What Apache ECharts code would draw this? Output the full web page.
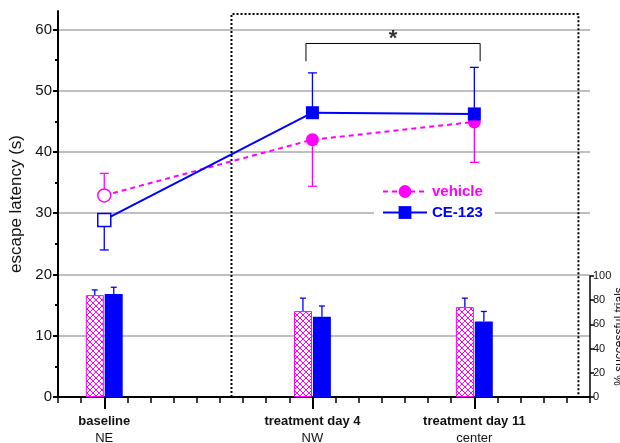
<!DOCTYPE html>
<html lang="en">
<head>
<meta charset="UTF-8">
<title>escape latency</title>
<style>
  html, body { margin: 0; padding: 0; background: #fff; }
  #main { width: 620px; height: 443px; }
</style>
</head>
<body>
<div id="main"></div>
<script src="https://cdn.jsdelivr.net/npm/echarts@6/dist/echarts.min.js"></script>
<script>
// data
var groups = ['baseline', 'treatment day 4', 'treatment day 11'];
var arenas = ['NE', 'NW', 'center'];
var dayX = [-5, 4, 11];

var vehicleLatency = [32.9, 42.0, 44.9];
var vehicleLatencySem = [3.6, 7.6, 6.6];
var vehicleSemSide = [1, -1, -1];
var ceLatency = [28.9, 46.4, 46.2];
var ceLatencySem = [4.9, 6.5, 7.6];
var ceSemSide = [-1, 1, 1];

var vehicleSuccess = [84.2, 71.0, 74.3];
var vehicleSuccessSem = [4.3, 10.7, 7.4];
var ceSuccess = [85.2, 66.4, 62.3];
var ceSuccessSem = [5.5, 8.8, 8.4];

var leftTicks = [0, 10, 20, 30, 40, 50, 60];
var leftMinorTicks = [5, 15, 25, 35, 45, 55];
var gridLines = [10, 20, 30, 40, 50, 60];

var font = 'Liberation Sans, Arial, sans-serif';
var MAG = '#ff00ff';
var BLUE = '#0000ff';

function hatch() {
    var c = document.createElement('canvas');
    c.width = 6; c.height = 6;
    var g = c.getContext('2d');
    g.fillStyle = '#fff';
    g.fillRect(0, 0, 6, 6);
    g.strokeStyle = MAG;
    g.lineWidth = 1;
    g.beginPath();
    g.moveTo(0, 0); g.lineTo(6, 6);
    g.moveTo(6, 0); g.lineTo(0, 6);
    g.stroke();
    return c;
}

// error bars, one-sided
function errorBars(name, ys, sem, side, color, xi, yi, shift, cap) {
    return {
        name: name,
        type: 'custom',
        xAxisIndex: xi,
        yAxisIndex: yi,
        silent: true,
        data: dayX.map(function (x, i) { return [x, ys[i], ys[i] + side[i] * sem[i]]; }),
        encode: { x: 0, y: [1, 2] },
        renderItem: function (params, api) {
            var p0 = api.coord([api.value(0), api.value(1)]);
            var p1 = api.coord([api.value(0), api.value(2)]);
            var x = p0[0] + shift;
            var st = { stroke: color, lineWidth: 1.3 };
            return {
                type: 'group',
                children: [
                    { type: 'line', shape: { x1: x, y1: p0[1], x2: x, y2: p1[1] }, style: st },
                    { type: 'line', shape: { x1: x - cap, y1: p1[1], x2: x + cap, y2: p1[1] }, style: st }
                ]
            };
        }
    };
}

var myChart = echarts.init(document.getElementById('main'));

var option = {
    animation: false,
    textStyle: { fontFamily: font },
    grid: [
        { left: 58, right: 30, top: 11, bottom: 46, outerBoundsMode: 'none' },
        { left: 58, right: 30, top: 276, bottom: 46, outerBoundsMode: 'none' }
    ],
    legend: {
        data: [
            { name: 'vehicle', textStyle: { color: MAG } },
            { name: 'CE-123', textStyle: { color: BLUE } }
        ],
        orient: 'vertical',
        left: 374,
        top: 182,
        itemWidth: 44,
        itemHeight: 16,
        itemGap: 6,
        backgroundColor: '#fff',
        padding: [2, 12, 2, 8],
        textStyle: { fontSize: 15, fontWeight: 'bold', fontFamily: font }
    },
    xAxis: [
        {
            type: 'value', gridIndex: 0, min: -7, max: 16, interval: 1,
            axisLine: { onZero: false, lineStyle: { color: '#000', width: 2 } },
            axisTick: { length: 6, lineStyle: { color: '#000', width: 1.5 } },
            axisLabel: { show: false },
            splitLine: { show: false }
        },
        {
            type: 'value', gridIndex: 0, min: -7, max: 16, interval: 1, position: 'bottom',
            axisLine: { show: false, onZero: false },
            axisTick: { customValues: dayX, length: 12, lineStyle: { color: '#000', width: 2 } },
            axisLabel: {
                customValues: dayX,
                margin: 16,
                lineHeight: 17,
                formatter: function (v) {
                    var i = dayX.indexOf(v);
                    if (i < 0) return '';
                    return '{b|' + groups[i] + '}\n{n|' + arenas[i] + '}';
                },
                rich: {
                    b: { fontSize: 13, fontWeight: 'bold', color: '#111', fontFamily: font, lineHeight: 17 },
                    n: { fontSize: 13, color: '#111', fontFamily: font, lineHeight: 17 }
                }
            },
            splitLine: { show: false }
        },
        { type: 'value', gridIndex: 1, min: -7, max: 16, show: false, axisLine: { onZero: false } }
    ],
    yAxis: [
        {
            type: 'value', gridIndex: 0, min: 0, max: 63, position: 'left',
            name: 'escape latency (s)', nameLocation: 'middle', nameGap: 33,
            nameTextStyle: { fontSize: 17, color: '#111', fontFamily: font },
            axisLine: { show: true, onZero: false, lineStyle: { color: '#000', width: 2 } },
            axisTick: { customValues: leftTicks, length: 5, lineStyle: { color: '#000', width: 2 } },
            axisLabel: { customValues: leftTicks, fontSize: 15, color: '#111', margin: 6 },
            splitLine: { show: false }
        },
        {
            type: 'value', gridIndex: 0, min: 0, max: 63, position: 'left',
            axisLine: { show: false, onZero: false },
            axisTick: { customValues: leftMinorTicks, length: 3, lineStyle: { color: '#000', width: 2 } },
            axisLabel: { show: false },
            splitLine: { show: false }
        },
        {
            type: 'value', gridIndex: 1, min: 0, max: 100, interval: 20, position: 'right',
            name: '% successful trials', nameLocation: 'middle', nameGap: 24, nameRotate: 90,
            nameMoveOverlap: false,
            nameTextStyle: { fontSize: 12, color: '#111', fontFamily: font },
            axisLine: { show: true, onZero: false, lineStyle: { color: '#000', width: 1.5 } },
            axisTick: { length: 4, lineStyle: { color: '#000', width: 1.5 } },
            axisLabel: { fontSize: 11, color: '#111', margin: 3 },
            splitLine: { show: false }
        }
    ],
    series: [
        {
            name: 'frame',
            type: 'line',
            xAxisIndex: 0, yAxisIndex: 0,
            silent: true,
            symbol: 'none',
            z: 1,
            data: [[0.5, 0], [0.5, 62.5], [15.5, 62.5], [15.5, 0]],
            lineStyle: { color: '#000', width: 2, type: [2, 2] },
            markLine: {
                silent: true,
                symbol: 'none',
                z: 0,
                label: { show: false },
                lineStyle: { color: '#aaa', width: 1.5, type: 'solid' },
                data: gridLines.map(function (v) { return { yAxis: v }; })
            }
        },
        {
            name: 'vehicle %',
            type: 'bar',
            xAxisIndex: 2, yAxisIndex: 2,
            barWidth: 18,
            barGap: '5%',
            data: dayX.map(function (x, i) { return [x, vehicleSuccess[i]]; }),
            itemStyle: { color: { image: hatch(), repeat: 'repeat' }, borderColor: MAG, borderWidth: 1 }
        },
        {
            name: 'CE-123 %',
            type: 'bar',
            xAxisIndex: 2, yAxisIndex: 2,
            barWidth: 18,
            barGap: '5%',
            data: dayX.map(function (x, i) { return [x, ceSuccess[i]]; }),
            itemStyle: { color: BLUE }
        },
        errorBars('vehicle % err', vehicleSuccess, vehicleSuccessSem, [1, 1, 1], BLUE, 2, 2, -9.5, 3),
        errorBars('CE-123 % err', ceSuccess, ceSuccessSem, [1, 1, 1], BLUE, 2, 2, 9.5, 3),
        errorBars('vehicle err', vehicleLatency, vehicleLatencySem, vehicleSemSide, MAG, 0, 0, 0, 4.5),
        errorBars('CE-123 err', ceLatency, ceLatencySem, ceSemSide, BLUE, 0, 0, 0, 4.5),
        {
            name: 'vehicle',
            type: 'line',
            xAxisIndex: 0, yAxisIndex: 0,
            symbol: 'circle',
            symbolSize: 13,
            data: dayX.map(function (x, i) {
                var d = { value: [x, vehicleLatency[i]] };
                if (i === 0) d.itemStyle = { color: '#fff', borderColor: MAG, borderWidth: 1.5 };
                return d;
            }),
            lineStyle: { color: MAG, width: 2, type: [5, 4] },
            itemStyle: { color: MAG }
        },
        {
            name: 'CE-123',
            type: 'line',
            xAxisIndex: 0, yAxisIndex: 0,
            symbol: 'rect',
            symbolSize: 13,
            data: dayX.map(function (x, i) {
                var d = { value: [x, ceLatency[i]] };
                if (i === 0) d.itemStyle = { color: '#fff', borderColor: BLUE, borderWidth: 1.5 };
                return d;
            }),
            lineStyle: { color: BLUE, width: 2 },
            itemStyle: { color: BLUE }
        },
        {
            name: 'bracket',
            type: 'line',
            xAxisIndex: 0, yAxisIndex: 0,
            silent: true,
            symbol: 'none',
            data: [[3.72, 54.8], [3.72, 57.7], [11.25, 57.7], [11.25, 54.8]],
            lineStyle: { color: '#000', width: 1 }
        },
        {
            name: 'star',
            type: 'scatter',
            xAxisIndex: 0, yAxisIndex: 0,
            silent: true,
            symbolSize: 1,
            itemStyle: { color: 'rgba(0,0,0,0)' },
            data: [[7.48, 58.5]],
            label: { show: true, position: 'inside', formatter: '*', fontSize: 22, fontWeight: 'bold', color: '#000' }
        }
    ]
};

myChart.setOption(option);
</script>
</body>
</html>
